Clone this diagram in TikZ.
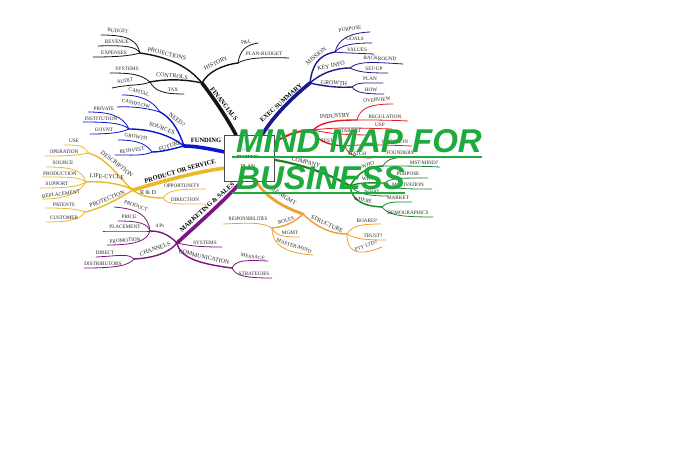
\documentclass[tikz,border=0pt]{standalone}
\usepackage{fontspec}
\setmainfont{Liberation Serif}
\newfontfamily\titlefont{Liberation Sans}
\definecolor{cfin}{RGB}{20,20,20}
\definecolor{cexec}{RGB}{25,25,140}
\definecolor{cred}{RGB}{225,30,30}
\definecolor{ccomp}{RGB}{30,130,40}
\definecolor{cfund}{RGB}{10,20,210}
\definecolor{cprod}{RGB}{235,185,40}
\definecolor{cmkt}{RGB}{125,20,130}
\definecolor{cmgmt}{RGB}{240,160,50}
\definecolor{ctitle}{RGB}{30,170,60}
\definecolor{ctext}{RGB}{40,40,40}
\begin{document}
\begin{tikzpicture}[x=1pt,y=-1pt,
  lf/.style={font=\fontsize{5.2}{6}\selectfont, text=ctext, inner sep=0pt},
  sb/.style={font=\fontsize{6}{7}\selectfont, text=ctext, inner sep=0pt},
  mn/.style={font=\bfseries\fontsize{6.5}{7.5}\selectfont, text=black, inner sep=0pt},
  leafline/.style={line width=0.8pt, line cap=round},
  twigline/.style={line width=1.4pt, line cap=round},
  trunkline/.style={line width=3.6pt, line cap=round},
  ttl/.style={font=\titlefont\bfseries\itshape\fontsize{33}{36}\selectfont, text=ctitle, anchor=base west, inner sep=0pt},
  uline/.style={ctitle, line width=2.5pt},
]
\useasboundingbox (0,0) rectangle (680,449);
\fill[white] (0,0) rectangle (680,449);

% ---------------- FINANCIALS
\coordinate (fA) at (236,135);
\coordinate (fH) at (202,83);
\draw[trunkline,cfin] (fA) .. controls (226,116) and (212,96) .. (fH);
\node[mn,rotate=-52] (fin) at (224,104) {FINANCIALS};
\coordinate (fP) at (140,53);
\draw[twigline,cfin] (fH) .. controls (188,66) and (168,57) .. (fP);
\node[sb,rotate=-14] (proj) at (167,54) {PROJECTIONS};
\coordinate (fP1) at (101,35);
\draw[leafline,cfin] (fP) .. controls (137,40) and (128,35) .. (fP1);
\node[lf,rotate=-4] (budget) at (118,31) {BUDGET};
\coordinate (fP2) at (98,46);
\draw[leafline,cfin] (fP) .. controls (136,47) and (128,45) .. (fP2);
\node[lf] (revenue) at (117,41.5) {REVENUE};
\coordinate (fP3) at (93,57);
\draw[leafline,cfin] (fP) .. controls (130,56) and (115,57) .. (fP3);
\node[lf] (expenses) at (114,52.5) {EXPENSES};
\coordinate (fC) at (150,82);
\draw[twigline,cfin] (fH) .. controls (185,79) and (165,79) .. (fC);
\node[sb,rotate=-5] (controls) at (172,76) {CONTROLS};
\coordinate (fC1) at (110,73);
\draw[leafline,cfin] (fC) .. controls (141,74) and (130,73) .. (fC1);
\node[lf] (systems1) at (127,69) {SYSTEMS};
\coordinate (fC2) at (112,88);
\draw[leafline,cfin] (fC) .. controls (141,86) and (130,84) .. (fC2);
\node[lf,rotate=8] (audit) at (125,81) {AUDIT};
\coordinate (fC3) at (184,94);
\draw[leafline,cfin] (fC) .. controls (155,91) and (163,94) .. (fC3);
\node[lf] (tax) at (173,90) {TAX};
\coordinate (fY) at (238,63);
\draw[twigline,cfin] (fH) .. controls (208,72) and (222,65) .. (fY);
\node[sb,rotate=25] (history) at (216,63) {HISTORY};
\coordinate (fY1) at (258,43);
\draw[leafline,cfin] (fY) .. controls (240,50) and (246,45) .. (fY1);
\node[lf,rotate=15] (pl) at (246,42) {P\&L};
\coordinate (fY2) at (289,58);
\draw[leafline,cfin] (fY) .. controls (246,58) and (262,57) .. (fY2);
\node[lf] (planbudget) at (264,54) {PLAN-BUDGET};

% ---------------- EXEC SUMMARY
\coordinate (eA) at (262,135);
\coordinate (eH) at (310,83);
\draw[trunkline,cexec] (eA) .. controls (274,115) and (294,96) .. (eH);
\node[mn,rotate=42] (exec) at (281,103) {EXEC SUMMARY};
\coordinate (eM) at (335,52);
\draw[twigline,cexec] (eH) .. controls (312,66) and (318,55) .. (eM);
\node[sb,rotate=40] (mission) at (316,56) {MISSION};
\coordinate (eM1) at (370,32);
\draw[leafline,cexec] (eM) .. controls (338,40) and (348,33) .. (eM1);
\node[lf,rotate=8] (purpose1) at (350,29) {PURPOSE};
\coordinate (eM2) at (372,43);
\draw[leafline,cexec] (eM) .. controls (341,45) and (352,43) .. (eM2);
\node[lf] (goals) at (355,39) {GOALS};
\coordinate (eM3) at (374,54);
\draw[leafline,cexec] (eM) .. controls (343,53) and (352,53) .. (eM3);
\node[lf] (values) at (357,49.5) {VALUES};
\coordinate (eK) at (350,68);
\draw[twigline,cexec] (eH) .. controls (320,74) and (334,68) .. (eK);
\node[sb,rotate=12] (keyinfo) at (331,66) {KEY INFO};
\coordinate (eK1) at (403,64);
\draw[leafline,cexec] (eK) .. controls (358,61) and (372,62) .. (eK1);
\node[lf,rotate=-3] (backround) at (380,58.5) {BACKROUND};
\coordinate (eK2) at (388,73);
\draw[leafline,cexec] (eK) .. controls (358,72) and (366,73) .. (eK2);
\node[lf] (setup) at (374,69) {SET-UP};
\coordinate (eG) at (352,87);
\draw[twigline,cexec] (eH) .. controls (322,86) and (338,88) .. (eG);
\node[sb,rotate=-4] (growth1) at (334,83) {GROWTH};
\coordinate (eG1) at (383,83);
\draw[leafline,cexec] (eG) .. controls (357,82) and (365,83) .. (eG1);
\node[lf] (plan1) at (370,79) {PLAN};
\coordinate (eG2) at (384,94);
\draw[leafline,cexec] (eG) .. controls (356,93) and (366,94) .. (eG2);
\node[lf] (how) at (371,89.5) {HOW};

% ---------------- MARKET (red)
\coordinate (rA) at (275,142);
\coordinate (rH) at (313,130);
\draw[line width=2pt,cred,line cap=round] (rA) .. controls (288,134) and (300,130) .. (rH);
\coordinate (rI) at (357,120);
\draw[twigline,cred] (rH) .. controls (322,121) and (340,120) .. (rI);
\node[sb,rotate=4] (industry) at (335,116) {INDUSTRY};
\coordinate (rI1) at (393,104);
\draw[leafline,cred] (rI) .. controls (360,108) and (370,104) .. (rI1);
\node[lf,rotate=5] (overview) at (377,100) {OVERVIEW};
\coordinate (rI2) at (408,121);
\draw[leafline,cred] (rI) .. controls (370,120) and (390,120) .. (rI2);
\node[lf] (regulation) at (385,116.5) {REGULATION};
\coordinate (rU) at (392,129);
\draw[leafline,cred] (rH) .. controls (335,127) and (360,128) .. (rU);
\node[lf] (usp) at (380,125) {USP};
\coordinate (rT) at (372,135);
\draw[leafline,cred] (rH) .. controls (330,134) and (350,135) .. (rT);
\node[lf] (target) at (351,131) {TARGET};
\coordinate (rS) at (345,146);
\draw[twigline,cred] (rH) .. controls (316,140) and (326,145) .. (rS);
\node[lf,rotate=-5] (test) at (327,141) {TEST};
\coordinate (rS1) at (412,146);
\draw[leafline,cred] (rS) .. controls (365,144) and (385,145) .. (rS1);
\node[lf] (location) at (395,141.5) {LOCATION};
\coordinate (rS2) at (372,158);
\draw[leafline,cred] (rS) .. controls (348,155) and (356,158) .. (rS2);
\node[lf] (match) at (357,154) {MATCH};

% ---------------- COMPANY (green)
\coordinate (cA) at (275,160);
\coordinate (cH) at (350,186);
\draw[line width=2.2pt,ccomp,line cap=round] (cA) .. controls (300,164) and (330,174) .. (cH);
\node[sb,rotate=-15] (company) at (306,162) {COMPANY};
\coordinate (cW) at (383,166);
\draw[twigline,ccomp] (cH) .. controls (358,173) and (368,166) .. (cW);
\node[lf,rotate=15] (who) at (368,165) {WHO};
\coordinate (cW1) at (414,157);
\draw[leafline,ccomp] (cW) .. controls (387,158) and (396,157) .. (cW1);
\node[lf] (founders) at (400,153) {FOUNDERS};
\coordinate (cW2) at (440,167);
\draw[leafline,ccomp] (cW) .. controls (400,166) and (420,166) .. (cW2);
\node[lf] (mstmind) at (424,163) {MST-MIND?};
\coordinate (cY) at (385,183);
\draw[twigline,ccomp] (cH) .. controls (360,182) and (372,183) .. (cY);
\node[lf] (why) at (368,179) {WHY};
\coordinate (cY1) at (428,178);
\draw[leafline,ccomp] (cY) .. controls (390,178) and (400,178) .. (cY1);
\node[lf] (purpose2) at (408,174) {PURPOSE};
\coordinate (cY2) at (432,189);
\draw[leafline,ccomp] (cY) .. controls (392,189) and (402,189) .. (cY2);
\node[lf] (motivation) at (408,185) {MOTIVATION};
\coordinate (cT) at (388,196);
\draw[leafline,ccomp] (cH) .. controls (358,194) and (368,196) .. (cT);
\node[lf] (what) at (372,192) {WHAT};
\coordinate (cR) at (382,207);
\draw[twigline,ccomp] (cH) .. controls (352,200) and (362,206) .. (cR);
\node[lf,rotate=-10] (where) at (363,200) {WHERE};
\coordinate (cR1) at (412,202);
\draw[leafline,ccomp] (cR) .. controls (388,201) and (395,202) .. (cR1);
\node[lf] (market) at (398,198) {MARKET};
\coordinate (cR2) at (433,217);
\draw[leafline,ccomp] (cR) .. controls (388,215) and (400,217) .. (cR2);
\node[lf] (demographics) at (408,212.5) {DEMOGRAPHICS};

% ---------------- FUNDING (blue)
\coordinate (uA) at (225,152);
\coordinate (uH) at (184,146);
\draw[trunkline,cfund] (uA) .. controls (210,149) and (196,146) .. (uH);
\node[mn] (funding) at (206,140.5) {FUNDING};
\coordinate (uN) at (160,112);
\draw[twigline,cfund] (uH) .. controls (178,128) and (170,117) .. (uN);
\node[sb,rotate=-38] (need) at (177,120) {NEED?};
\coordinate (uN1) at (122,95);
\draw[leafline,cfund] (uN) .. controls (152,100) and (140,95) .. (uN1);
\node[lf,rotate=-18] (capital) at (139,92) {CAPITAL};
\coordinate (uN2) at (117,107);
\draw[leafline,cfund] (uN) .. controls (150,109) and (135,106) .. (uN2);
\node[lf,rotate=-12] (cashflow) at (136,103.5) {CASHFLOW};
\coordinate (uS) at (129,129);
\draw[twigline,cfund] (uH) .. controls (170,135) and (150,129) .. (uS);
\node[sb,rotate=-20] (sources) at (162,128) {SOURCES};
\coordinate (uS1) at (88,112);
\draw[leafline,cfund] (uS) .. controls (123,116) and (110,112) .. (uS1);
\node[lf] (private) at (104,108.5) {PRIVATE};
\coordinate (uS2) at (83,122);
\draw[leafline,cfund] (uS) .. controls (122,123) and (108,122) .. (uS2);
\node[lf] (institution) at (101,118.5) {INSTITUTION};
\coordinate (uS3) at (90,134);
\draw[leafline,cfund] (uS) .. controls (120,133) and (108,134) .. (uS3);
\node[lf] (govnt) at (104,130) {GOVNT};
\coordinate (uF) at (152,152);
\draw[twigline,cfund] (uH) .. controls (172,149) and (162,152) .. (uF);
\node[sb,rotate=18] (future) at (170,146) {FUTURE};
\coordinate (uF1) at (118,140);
\draw[leafline,cfund] (uF) .. controls (146,143) and (135,140) .. (uF1);
\node[lf,rotate=-10] (growth2) at (136,137) {GROWTH};
\coordinate (uF2) at (115,155);
\draw[leafline,cfund] (uF) .. controls (144,156) and (132,155) .. (uF2);
\node[lf,rotate=8] (reinvest) at (132,150.5) {REINVEST};

% ---------------- PRODUCT OR SERVICE (gold)
\coordinate (pA) at (225,168);
\coordinate (pH) at (133,190);
\draw[trunkline,cprod] (pA) .. controls (195,172) and (160,182) .. (pH);
\node[mn,rotate=16] (product) at (180,171) {PRODUCT OR SERVICE};
\coordinate (pD) at (88,153);
\draw[twigline,cprod] (pH) .. controls (120,180) and (108,158) .. (pD);
\node[sb,rotate=-38] (description) at (117,164) {DESCRIPTION};
\coordinate (pD1) at (64,145);
\draw[leafline,cprod] (pD) .. controls (84,145) and (78,145) .. (pD1);
\node[lf] (use) at (74,140.5) {USE};
\coordinate (pD2) at (45,156);
\draw[leafline,cprod] (pD) .. controls (75,156) and (60,156) .. (pD2);
\node[lf] (operation) at (64,152) {OPERATION};
\coordinate (pL) at (86,182);
\draw[twigline,cprod] (pH) .. controls (120,183) and (100,181) .. (pL);
\node[sb,rotate=-3] (lifecycle) at (107,176.5) {LIFE-CYCLE};
\coordinate (pL1) at (46,167);
\draw[leafline,cprod] (pL) .. controls (82,170) and (72,167) .. (pL1);
\node[lf] (source) at (63,163) {SOURCE};
\coordinate (pL2) at (42,177);
\draw[leafline,cprod] (pL) .. controls (80,177) and (68,177) .. (pL2);
\node[lf] (production) at (60,173.5) {PRODUCTION};
\coordinate (pL3) at (40,188);
\draw[leafline,cprod] (pL) .. controls (78,187) and (66,188) .. (pL3);
\node[lf] (support) at (57,184) {SUPPORT};
\coordinate (pL4) at (42,199);
\draw[leafline,cprod] (pL) .. controls (80,192) and (68,199) .. (pL4);
\node[lf,rotate=8] (replacement) at (61,194) {REPLACEMENT};
\coordinate (pP) at (85,212);
\draw[twigline,cprod] (pH) .. controls (120,198) and (100,209) .. (pP);
\node[sb,rotate=22] (protection) at (107,199) {PROTECTION};
\coordinate (pP1) at (46,208);
\draw[leafline,cprod] (pP) .. controls (78,209) and (66,208) .. (pP1);
\node[lf] (patents) at (64,204.5) {PATENTS};
\coordinate (pP2) at (46,222);
\draw[leafline,cprod] (pP) .. controls (80,220) and (68,222) .. (pP2);
\node[lf] (customer) at (64,218) {CUSTOMER};
\coordinate (pR) at (163,198);
\draw[twigline,cprod] (pH) .. controls (140,196) and (150,198) .. (pR);
\node[sb] (rd) at (148,192.5) {R \& D};
\coordinate (pR1) at (206,189);
\draw[leafline,cprod] (pR) .. controls (168,190) and (178,189) .. (pR1);
\node[lf] (opportunity) at (182,185.5) {OPPORTUNITY};
\coordinate (pR2) at (206,204);
\draw[leafline,cprod] (pR) .. controls (167,205) and (178,204) .. (pR2);
\node[lf] (direction) at (185,200) {DIRECTION};

% ---------------- MARKETING & SALES (purple)
\coordinate (mA) at (242,181);
\coordinate (mH) at (177,243);
\draw[trunkline,cmkt] (mA) .. controls (225,200) and (200,222) .. (mH);
\node[mn,rotate=42] (marketing) at (207,207) {MARKETING \& SALES};
\coordinate (mP) at (150,231);
\draw[twigline,cmkt] (mH) .. controls (168,234) and (160,231) .. (mP);
\node[lf] (fourps) at (160,226) {4 Ps};
\coordinate (mP1) at (114,207);
\draw[leafline,cmkt] (mP) .. controls (148,215) and (138,209) .. (mP1);
\node[lf,rotate=-18] (product2) at (136,206) {PRODUCT};
\coordinate (mP2) at (118,221);
\draw[leafline,cmkt] (mP) .. controls (148,224) and (140,221) .. (mP2);
\node[lf] (price) at (129,217) {PRICE};
\coordinate (mP3) at (103,231);
\draw[leafline,cmkt] (mP) .. controls (135,231) and (120,231) .. (mP3);
\node[lf] (placement) at (125,227) {PLACEMENT};
\coordinate (mP4) at (107,245);
\draw[leafline,cmkt] (mP) .. controls (147,240) and (138,245) .. (mP4);
\node[lf,rotate=4] (promotion) at (125,240.5) {PROMOTION};
\coordinate (mS) at (222,247);
\draw[leafline,cmkt] (mH) .. controls (190,246) and (200,247) .. (mS);
\node[lf] (systems2) at (205,242.5) {SYSTEMS};
\coordinate (mC) at (134,259);
\draw[twigline,cmkt] (mH) .. controls (170,252) and (155,258) .. (mC);
\node[sb,rotate=20] (channels) at (155,249) {CHANNELS};
\coordinate (mC1) at (96,257);
\draw[leafline,cmkt] (mC) .. controls (128,253) and (118,256) .. (mC1);
\node[lf] (direct) at (105,252.5) {DIRECT};
\coordinate (mC2) at (84,268);
\draw[leafline,cmkt] (mC) .. controls (128,266) and (115,268) .. (mC2);
\node[lf] (distributors) at (103,264) {DISTRIBUTORS};
\coordinate (mM) at (232,268);
\draw[twigline,cmkt] (mH) .. controls (180,258) and (200,264) .. (mM);
\node[sb,rotate=-13] (communication) at (204,257) {COMMUNICATION};
\coordinate (mM1) at (268,261);
\draw[leafline,cmkt] (mM) .. controls (236,260) and (245,260) .. (mM1);
\node[lf,rotate=-8] (message) at (253,257) {MESSAGE};
\coordinate (mM2) at (272,278);
\draw[leafline,cmkt] (mM) .. controls (236,276) and (245,278) .. (mM2);
\node[lf] (strategies) at (254,273.5) {STRATEGIES};

% ---------------- MGMT (orange)
\coordinate (gA) at (256,181);
\coordinate (gH) at (303,214);
\draw[line width=2.8pt,cmgmt,line cap=round] (gA) .. controls (265,197) and (285,208) .. (gH);
\node[sb,rotate=-32] (bizmgmt) at (283,196) {BIZ MGMT};
\coordinate (gR) at (272,228);
\draw[twigline,cmgmt] (gH) .. controls (295,222) and (285,227) .. (gR);
\node[lf,rotate=18] (roles) at (286,220.5) {ROLES};
\coordinate (gR1) at (223,224);
\draw[leafline,cmgmt] (gR) .. controls (262,222) and (250,223) .. (gR1);
\node[lf,xscale=0.85] (resp) at (248,218.5) {RESPONSIBILITIES};
\coordinate (gR2) at (300,237);
\draw[leafline,cmgmt] (gR) .. controls (275,236) and (285,237) .. (gR2);
\node[lf] (mgmt2) at (290,232.5) {MGMT};
\coordinate (gR3) at (313,255);
\draw[leafline,cmgmt] (gR) .. controls (272,245) and (285,253) .. (gR3);
\node[lf,rotate=-18] (mastermind) at (294,246) {MASTER-MIND};
\coordinate (gS) at (347,234);
\draw[twigline,cmgmt] (gH) .. controls (315,226) and (330,234) .. (gS);
\node[sb,rotate=-25] (structure) at (327,224) {STRUCTURE};
\coordinate (gS1) at (381,224);
\draw[leafline,cmgmt] (gS) .. controls (352,226) and (360,224) .. (gS1);
\node[lf] (board) at (367,220.5) {BOARD?};
\coordinate (gS2) at (386,240);
\draw[leafline,cmgmt] (gS) .. controls (355,239) and (365,240) .. (gS2);
\node[lf] (trust) at (373,235.5) {TRUST?};
\coordinate (gS3) at (382,247);
\draw[leafline,cmgmt] (gS) .. controls (347,250) and (355,258) .. (gS3);
\node[lf,rotate=20] (pty) at (366,246) {PTY LTD?};

% ---------------- centre box
\node[draw=black!70, fill=white, line width=0.6pt, minimum width=50pt, minimum height=46pt, inner sep=0pt] (box) at (249,158) {};
\node[font=\fontsize{4.5}{5}\selectfont, text=black!45, inner sep=0pt] (the) at (246,150) {THE};
\node[font=\bfseries\fontsize{4.5}{5}\selectfont, inner sep=0pt] (business) at (248,157) {BUSINESS};
\node[font=\fontsize{5.5}{6}\selectfont, inner sep=0pt] (plan) at (248,167) {PLAN};

% ---------------- title
\node[ttl] (t1) at (236,153) {MIND MAP FOR};
\node[ttl] (t2) at (236,190) {BUSINESS};
\coordinate (u1a) at (232,157); \coordinate (u1b) at (482,157);
\coordinate (u2a) at (232,193); \coordinate (u2b) at (405,193);
\draw[uline] (u1a) -- (u1b);
\draw[uline] (u2a) -- (u2b);
\end{tikzpicture}
\end{document}
